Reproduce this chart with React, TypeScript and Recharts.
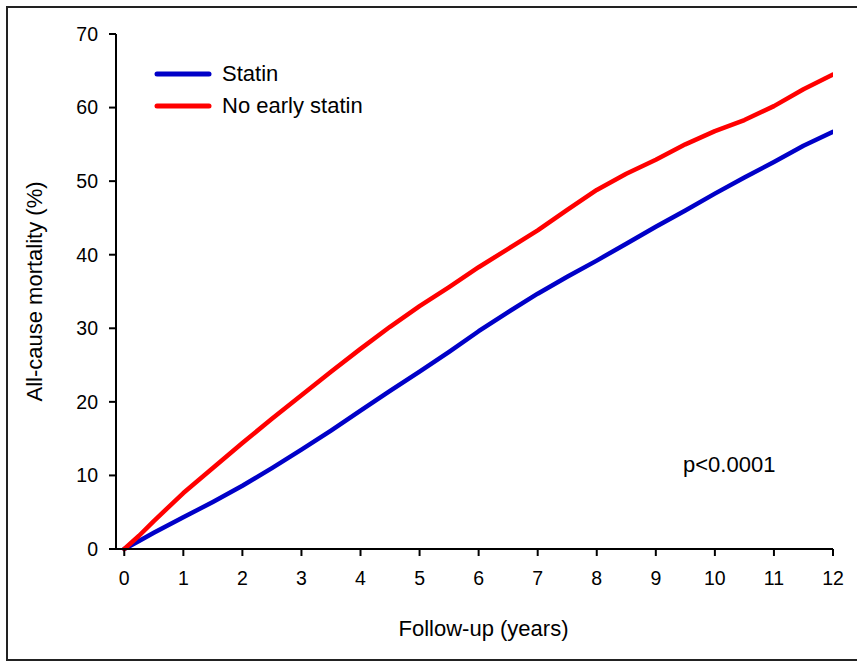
import { Label, Line, LineChart, XAxis, YAxis } from "recharts";

const FONT = '"Liberation Sans", Arial, sans-serif';

// Kaplan-Meier style cumulative mortality, every half year
const FOLLOW_UP_YEARS = [0, 0.25, 0.5, 1, 1.5, 2, 2.5, 3, 3.5, 4, 4.5, 5, 5.5, 6, 6.5, 7, 7.5, 8, 8.5, 9, 9.5, 10, 10.5, 11, 11.5, 12];
const STATIN = [0, 1.1, 2.2, 4.3, 6.4, 8.6, 11.0, 13.5, 16.1, 18.8, 21.5, 24.1, 26.8, 29.6, 32.2, 34.7, 37.0, 39.2, 41.5, 43.8, 46.0, 48.3, 50.5, 52.6, 54.8, 56.7];
const NO_EARLY_STATIN = [0, 1.8, 3.8, 7.6, 11.0, 14.4, 17.7, 20.9, 24.1, 27.2, 30.2, 33.0, 35.6, 38.3, 40.8, 43.3, 46.1, 48.8, 51.0, 52.9, 55.0, 56.8, 58.3, 60.2, 62.5, 64.5];

const X_TICKS = [0, 1, 2, 3, 4, 5, 6, 7, 8, 9, 10, 11, 12];
const Y_TICKS = [0, 10, 20, 30, 40, 50, 60, 70];

const SERIES = [
  { key: "statin", name: "Statin", color: "#0000c8" },
  { key: "noEarly", name: "No early statin", color: "#ff0000" },
];

const data = FOLLOW_UP_YEARS.map((year, i) => ({
  year,
  statin: STATIN[i],
  noEarly: NO_EARLY_STATIN[i],
}));

const axisStroke = { stroke: "#000", strokeWidth: 2 };

function CurveLegend() {
  return (
    <div style={{ position: "absolute", left: 154, top: 58 }}>
      {SERIES.map((s) => (
        <div key={s.key} style={{ display: "flex", alignItems: "center", height: 32 }}>
          <svg width={58} height={8}>
            <line x1={3} y1={4} x2={55} y2={4} stroke={s.color} strokeWidth={5} strokeLinecap="round" />
          </svg>
          <span style={{ marginLeft: 10, fontSize: 22, color: "#000" }}>{s.name}</span>
        </div>
      ))}
    </div>
  );
}

export default function App() {
  return (
    <div
      style={{
        position: "absolute",
        left: 0,
        top: 0,
        width: 857,
        height: 661,
        overflow: "hidden",
        background: "#fff",
        fontFamily: FONT,
      }}
    >
      {/* figure frame, cut off on the right as in the source */}
      <div
        style={{
          position: "absolute",
          left: 6,
          top: 6,
          width: 880,
          height: 655,
          boxSizing: "border-box",
          border: "2px solid #222",
        }}
      />
      <LineChart width={857} height={661} data={data} margin={{ top: 34, right: 24, bottom: 20, left: 10 }}>
        <XAxis
          dataKey="year"
          type="number"
          domain={[-0.14, 12]}
          ticks={X_TICKS}
          allowDataOverflow
          height={92}
          tickSize={7}
          tickMargin={15}
          axisLine={axisStroke}
          tickLine={axisStroke}
          tick={{ fill: "#000", fontSize: 19.5, fontFamily: FONT }}
        >
          <Label
            value="Follow-up (years)"
            position="insideBottom"
            offset={5}
            dx={9}
            fill="#000"
            fontSize={22}
            fontFamily={FONT}
          />
        </XAxis>
        <YAxis
          type="number"
          domain={[0, 70]}
          ticks={Y_TICKS}
          width={106}
          tickSize={7}
          tickMargin={11}
          axisLine={axisStroke}
          tickLine={axisStroke}
          tick={{ fill: "#000", fontSize: 19.5, fontFamily: FONT }}
        >
          <Label
            value="All-cause mortality (%)"
            angle={-90}
            position="insideLeft"
            offset={24}
            fill="#000"
            fontSize={22}
            fontFamily={FONT}
            style={{ textAnchor: "middle" }}
          />
        </YAxis>
        {SERIES.map((s) => (
          <Line
            key={s.key}
            dataKey={s.key}
            name={s.name}
            type="linear"
            stroke={s.color}
            strokeWidth={4.5}
            strokeLinecap="round"
            strokeLinejoin="round"
            dot={false}
            activeDot={false}
            isAnimationActive={false}
          />
        ))}
      </LineChart>
      <CurveLegend />
      <div style={{ position: "absolute", left: 683, top: 454, fontSize: 22, lineHeight: "22px", color: "#000" }}>
        p&lt;0.0001
      </div>
    </div>
  );
}
